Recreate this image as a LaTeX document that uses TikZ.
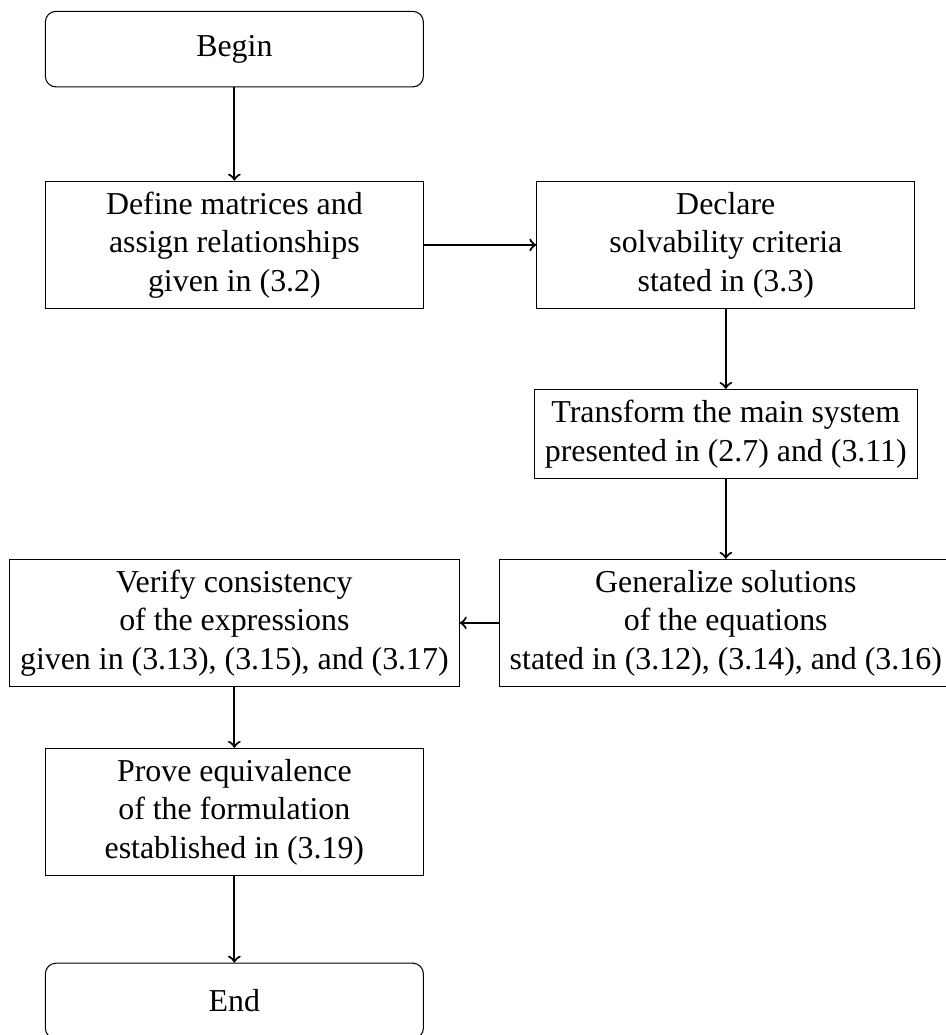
\documentclass[tikz,border=0pt,12pt]{standalone}
\usepackage{fontspec}
\setmainfont{Liberation Serif}
\begin{document}
\begin{tikzpicture}[
    startstop/.style={draw, rounded corners, minimum width=5cm, minimum height=1cm, align=center},
    process/.style={draw, minimum width=5cm, align=center},
    flowarrow/.style={thick, ->}
  ]
                % 図の大きさを固定
                \useasboundingbox (0,0) rectangle (12.5,-13.69);

                % 開始と終了
                \node[startstop] (begin) at (3.1,-0.65) {Begin};
                \node[startstop] (end) at (3.1,-13.24) {End};

                % 各段階の箱
                \node[process] (define) at (3.1,-3.24) {Define matrices and\\assign relationships\\given in (3.2)};
                \node[process] (declare) at (9.6,-3.24) {Declare\\solvability criteria\\stated in (3.3)};
                \node[process] (transform) at (9.6,-5.74) {Transform the main system\\presented in (2.7) and (3.11)};
                \node[process] (generalize) at (9.6,-8.24) {Generalize solutions\\of the equations\\stated in (3.12), (3.14), and (3.16)};
                \node[process] (verify) at (3.1,-8.24) {Verify consistency\\of the expressions\\given in (3.13), (3.15), and (3.17)};
                \node[process] (prove) at (3.1,-10.74) {Prove equivalence\\of the formulation\\established in (3.19)};

                % 矢印を描画
                \draw[flowarrow] (begin) -- (define);
                \draw[flowarrow] (define) -- (declare);
                \draw[flowarrow] (declare) -- (transform);
                \draw[flowarrow] (transform) -- (generalize);
                \draw[flowarrow] (generalize) -- (verify);
                \draw[flowarrow] (verify) -- (prove);
                \draw[flowarrow] (prove) -- (end);
            \end{tikzpicture}
\end{document}
